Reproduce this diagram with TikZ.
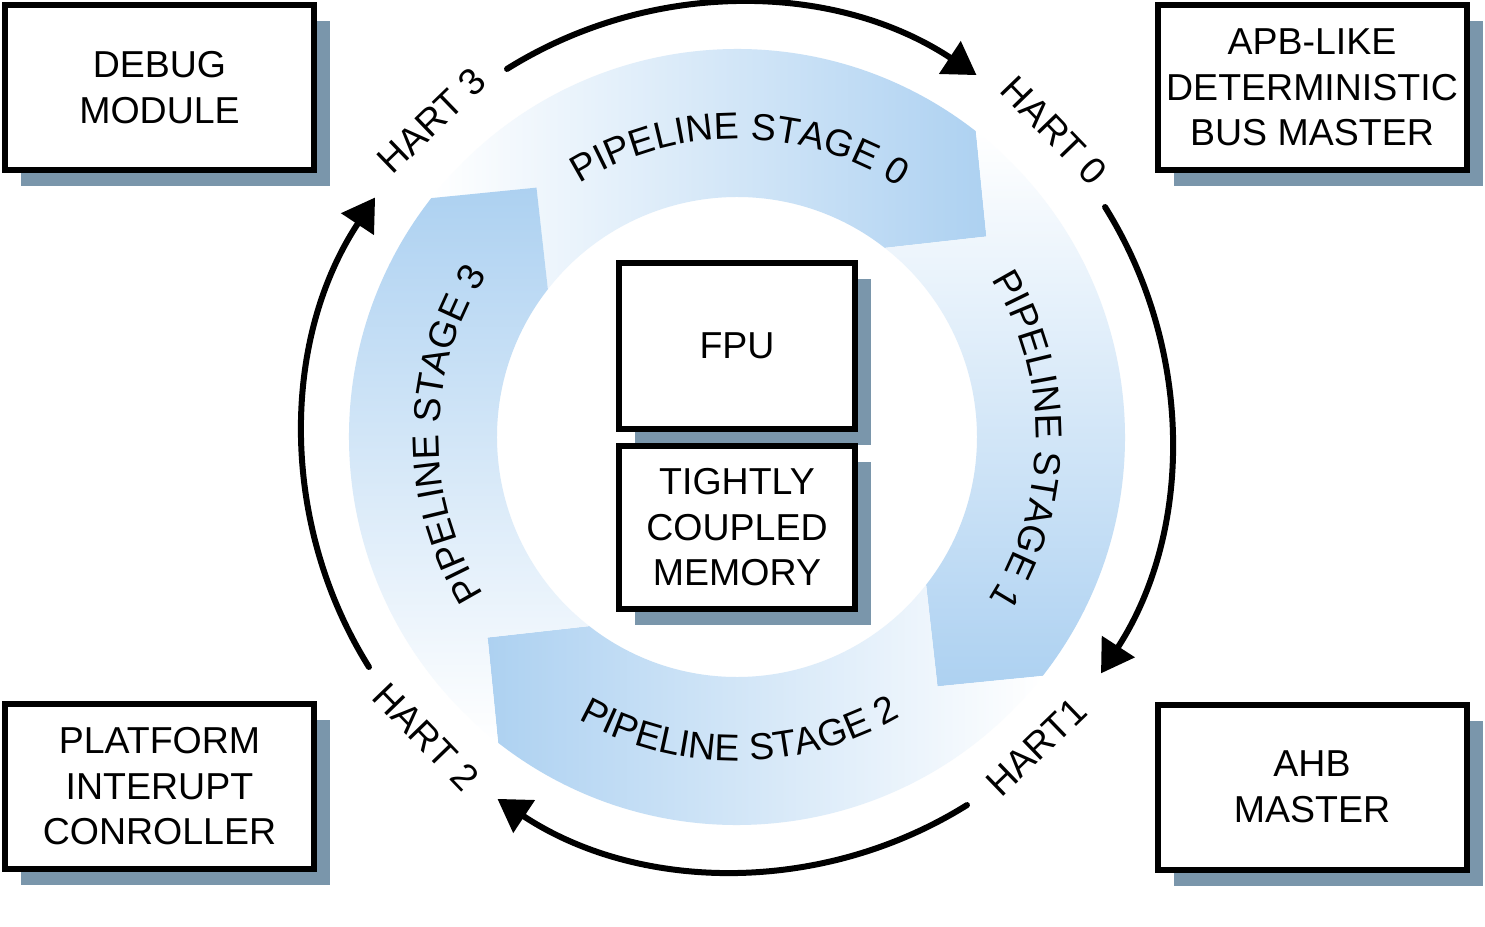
\documentclass[tikz,border=0pt]{standalone}
\usepackage{fontspec}
\setmainfont{Liberation Sans}
\usetikzlibrary{arrows.meta,decorations.text,shadows}
\definecolor{stageblue}{HTML}{ADD1F1}
\definecolor{shadowcol}{HTML}{7A96AB}
\newcommand{\diagfont}{\fontsize{37.5}{45.5}\selectfont}
\begin{document}
\begin{tikzpicture}[x=1pt,y=1pt,
  box/.style={draw=black, line width=6pt, fill=white, align=center, font=\diagfont, inner sep=0pt,
    drop shadow={shadow xshift=16pt, shadow yshift=-16pt, fill=shadowcol, opacity=1}},
  cornerbox/.style={box, minimum width=309pt, minimum height=165pt},
  hart/.style={font=\diagfont, inner sep=0pt},
  cyc/.style={line width=6pt, line cap=round, -{Triangle[length=32pt,width=38pt]}}
]
\useasboundingbox (-737,-489) rectangle (748,437);
\fill[white] (-737,-489) rectangle (748,437);

% pipeline stage bands
\shade[left color=white, right color=stageblue]
  (142:388) arc[start angle=142,end angle=52,radius=388] -- (38.8:320) -- (52:240)
  arc[start angle=52,end angle=142,radius=240] -- (128.8:320) -- cycle;
\shade[top color=white, bottom color=stageblue]
  (52:388) arc[start angle=52,end angle=-38,radius=388] -- (-51.2:320) -- (-38:240)
  arc[start angle=-38,end angle=52,radius=240] -- (38.8:320) -- cycle;
\shade[left color=stageblue, right color=white]
  (-38:388) arc[start angle=-38,end angle=-128,radius=388] -- (-141.2:320) -- (-128:240)
  arc[start angle=-128,end angle=-38,radius=240] -- (-51.2:320) -- cycle;
\shade[top color=stageblue, bottom color=white]
  (-128:388) arc[start angle=-128,end angle=-218,radius=388] -- (-231.2:320) -- (-218:240)
  arc[start angle=-218,end angle=-128,radius=240] -- (-141.2:320) -- cycle;

% stage labels along the ring
\path[decorate, decoration={text along path, text align=center, text={|\diagfont|PIPELINE STAGE 0}}]
  (130:298) arc[start angle=130,end angle=49,radius=298];
\path[decorate, decoration={text along path, text align=center, text={|\diagfont|PIPELINE STAGE 1}}]
  (40:299) arc[start angle=40,end angle=-41,radius=299];
\path[decorate, decoration={text along path, text align=center, text={|\diagfont|PIPELINE STAGE 2}}]
  (-130:324) arc[start angle=-130,end angle=-49,radius=324];
\path[decorate, decoration={text along path, text align=center, text={|\diagfont|PIPELINE STAGE 3}}]
  (220:298) arc[start angle=220,end angle=139,radius=298];

% centre blocks
\node[box, minimum width=236pt, minimum height=166pt] (fpu) at (0,91) {FPU};
\node[box, minimum width=236pt, minimum height=163pt] (tcm) at (0,-90.5) {TIGHTLY\\COUPLED\\MEMORY};

% hart cycle arrows
\coordinate (a0) at (122:434);
\coordinate (a1) at (32:434);
\coordinate (a2) at (-58:434);
\coordinate (a3) at (-148:434);
\draw[cyc] (a0) arc[start angle=122,end angle=56.5,radius=434];
\draw[cyc] (a1) arc[start angle=32,end angle=-33,radius=434];
\draw[cyc] (a2) arc[start angle=-58,end angle=-123.5,radius=434];
\draw[cyc] (a3) arc[start angle=-148,end angle=-213.5,radius=434];

% hart labels
\node[hart, rotate=-46] (h0) at (44:441) {HART 0};
\node[hart, rotate=44] (h1) at (-46:431) {HART1};
\node[hart, rotate=-46] (h2) at (-136:432) {HART 2};
\node[hart, rotate=44] (h3) at (134:440) {HART 3};

% corner blocks
\node[cornerbox] (dbg) at (-577.5,349.5) {DEBUG\\MODULE};
\node[cornerbox] (apb) at (575,349.5) {APB-LIKE\\DETERMINISTIC\\BUS MASTER};
\node[cornerbox] (pic) at (-577.5,-349.5) {PLATFORM\\INTERUPT\\CONROLLER};
\node[cornerbox] (ahb) at (575,-350) {AHB\\MASTER};
\end{tikzpicture}
\end{document}
